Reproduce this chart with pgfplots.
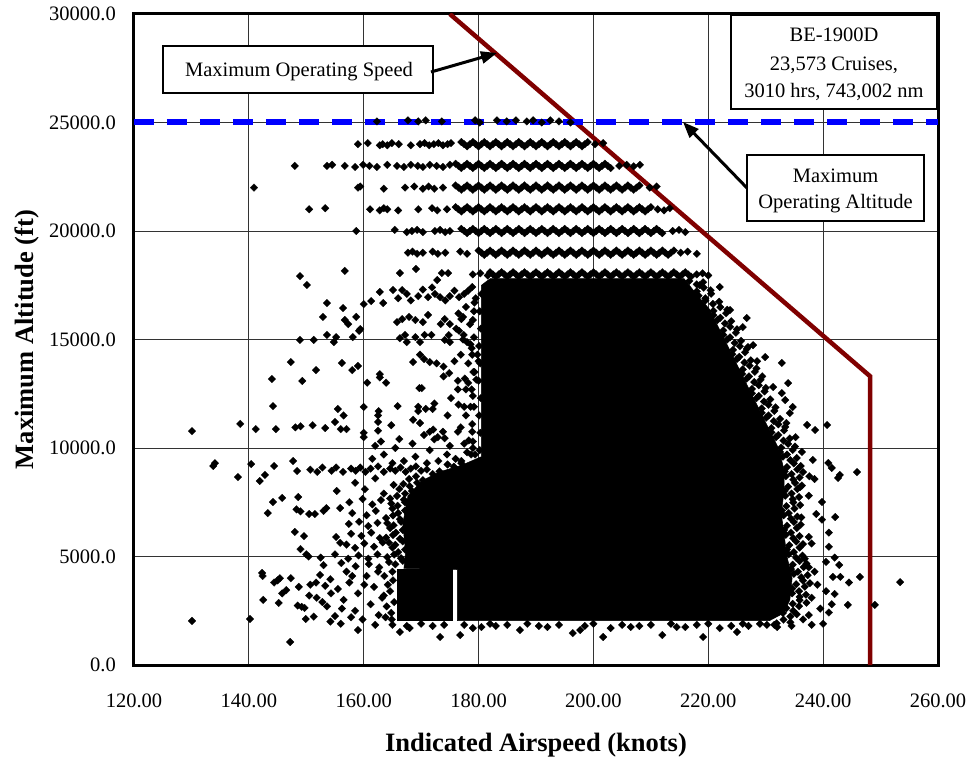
\documentclass[border=0pt]{standalone}
\usepackage{fontspec}
\setmainfont{Liberation Serif}
\usepackage{pgfplots}
\pgfplotsset{compat=1.18}
\usetikzlibrary{arrows.meta}
\definecolor{maroon}{RGB}{128,0,0}
\pgfplotsset{pts/.style={only marks, mark=square*, mark size=2.7pt, color=black, mark options={rotate=45, fill=black, draw=black, line width=0.2pt}}}
\begin{document}
\begin{tikzpicture}
\begin{axis}[
  at={(0pt,0pt)}, anchor=south west,
  scale only axis, width=804pt, height=651pt,
  xmin=120, xmax=260, ymin=0, ymax=30000,
  xtick={120,140,...,260}, ytick={0,5000,...,30000},
  scaled x ticks=false, scaled y ticks=false,
  major tick length=0pt,
  grid=major, major grid style={black!80, line width=0.8pt},
  axis line style={line width=3pt},
  /pgf/number format/assume math mode=true,
  xticklabel style={font=\fontsize{20.5}{24}\selectfont, anchor=center, inner sep=0pt, yshift=-36pt,
    /pgf/number format/fixed, /pgf/number format/fixed zerofill, /pgf/number format/precision=2},
  yticklabel style={font=\fontsize{20.5}{24}\selectfont, anchor=east, inner sep=0pt, xshift=-18pt,
    /pgf/number format/fixed, /pgf/number format/fixed zerofill, /pgf/number format/precision=1, /pgf/number format/1000 sep={}},
  xlabel={Indicated Airspeed (knots)},
  ylabel={Maximum Altitude (ft)},
  xlabel style={font=\fontsize{26.5}{30}\selectfont\bfseries, at={(axis description cs:0.5,-0.1336)}, anchor=base, inner sep=0pt},
  ylabel style={font=\fontsize{26.5}{30}\selectfont\bfseries, at={(axis description cs:-0.1244,0.5)}, anchor=base, inner sep=0pt},
]
% dense core (solid black areas of overlapping markers)
\addplot[fill=black, draw=black, line width=0.5pt, forget plot] coordinates {
(180.5,17500) (182,17800) (215.8,17800) (218.2,17000) (220.2,16400) (221.7,15600) (223.2,14800) (224.7,14000) (226.2,13200) (227.7,12400) (229.2,11600) (230.7,10800) (232.2,10000) (233.2,9000) (233.2,8000) (232.7,7000) (233.2,6000) (233.7,5000) (234.6,4000) (234.2,3000) (233.2,2400) (230.7,2050) (176.3,2050) (176.3,4400) (167,4450) (167.3,5200) (166.8,6500) (167.7,7800) (170.2,8500) (173.2,8900) (177,9200) (180.5,9600)} -- cycle;
\addplot[fill=black, draw=black, line width=0.5pt, forget plot] coordinates {
(165.8,2050) (175.4,2050) (175.4,4420) (165.8,4420)} -- cycle;
% flight-level rows
\addplot[pts] table[row sep=\\] {
x y\\
162.3 25050\\ 167.7 25100\\ 169.5 25050\\ 170.8 25100\\ 173.6 25050\\ 179.4 25100\\ 180.2 25000\\ 183.2 25100\\ 184.9 25050\\ 186.5 25100\\ 188.4 25050\\ 189.5 25100\\ 191.0 25000\\ 192.5 25100\\ 194.0 25050\\ 196.0 25000\\
159.0 24000\\ 160.7 24050\\ 162.8 23950\\ 163.3 24000\\ 164.1 23950\\ 164.9 24050\\ 166.1 24000\\ 168.2 23950\\ 169.8 24000\\ 170.6 24050\\ 171.4 23950\\ 172.2 24000\\ 173.0 24050\\ 173.8 23950\\ 174.6 24000\\ 175.2 24050\\
177 24100\\ 178 23900\\ 179 24100\\ 180 23900\\ 181 24100\\ 182 23900\\ 183 24100\\ 184 23900\\ 185 24100\\ 186 23900\\ 187 24100\\ 188 23900\\ 189 24100\\ 190 23900\\ 191 24100\\ 192 23900\\ 193 24100\\ 194 23900\\ 195 24100\\ 196 23900\\ 197 24100\\ 198 23900\\ 199 24100\\ 200.3 24000\\ 201.7 24050\\
148.0 23000\\ 153.6 23000\\ 154.5 23050\\ 156.7 23000\\ 158.5 22950\\ 159.9 23050\\ 161.0 23000\\ 162.3 22950\\ 164.1 23050\\ 165.8 23000\\ 167.0 22950\\ 168.2 23050\\ 169.4 23000\\ 170.3 22950\\ 171.5 23050\\ 172.7 23000\\ 173.8 22950\\ 175.0 23050\\
176 23100\\ 177 22900\\ 178 23100\\ 179 22900\\ 180 23100\\ 181 22900\\ 182 23100\\ 183 22900\\ 184 23100\\ 185 22900\\ 186 23100\\ 187 22900\\ 188 23100\\ 189 22900\\ 190 23100\\ 191 22900\\ 192 23100\\ 193 22900\\ 194 23100\\ 195 22900\\ 196 23100\\ 197 22900\\ 198 23100\\ 199 22900\\ 200 23100\\ 201 22900\\ 202 23100\\ 203 22900\\ 204.5 23000\\ 205.8 23050\\ 207.0 22980\\ 208.1 23050\\
140.9 22000\\ 159.0 22000\\ 159.4 22050\\ 163.5 21950\\ 167.2 22000\\ 168.8 22050\\ 170.3 21950\\ 171.3 22050\\ 172.3 21950\\ 173.8 22000\\
176 22100\\ 177 21900\\ 178 22100\\ 179 21900\\ 180 22100\\ 181 21900\\ 182 22100\\ 183 21900\\ 184 22100\\ 185 21900\\ 186 22100\\ 187 21900\\ 188 22100\\ 189 21900\\ 190 22100\\ 191 21900\\ 192 22100\\ 193 21900\\ 194 22100\\ 195 21900\\ 196 22100\\ 197 21900\\ 198 22100\\ 199 21900\\ 200 22100\\ 201 21900\\ 202 22100\\ 203 21900\\ 204 22100\\ 205 21900\\ 206 22100\\ 207 21900\\ 208 22100\\ 209.8 22000\\ 211.0 22050\\
150.5 21000\\ 153.3 21050\\ 161.1 21000\\ 162.8 20950\\ 163.5 21050\\ 164.1 21000\\ 166.0 20950\\ 169.5 21000\\ 171.9 21050\\ 172.8 20950\\ 174.5 21000\\
176 21100\\ 177 20900\\ 178 21100\\ 179 20900\\ 180 21100\\ 181 20900\\ 182 21100\\ 183 20900\\ 184 21100\\ 185 20900\\ 186 21100\\ 187 20900\\ 188 21100\\ 189 20900\\ 190 21100\\ 191 20900\\ 192 21100\\ 193 20900\\ 194 21100\\ 195 20900\\ 196 21100\\ 197 20900\\ 198 21100\\ 199 20900\\ 200 21100\\ 201 20900\\ 202 21100\\ 203 20900\\ 204 21100\\ 205 20900\\ 206 21100\\ 207 20900\\ 208 21100\\ 209 20900\\ 210 21100\\ 211.2 21000\\ 212.3 20950\\ 213.3 21050\\
158.7 20000\\ 165.4 20050\\ 167.5 19950\\ 168.4 20000\\ 169.3 20050\\ 170.3 19950\\ 172.4 20000\\ 173.3 20050\\ 174.2 19950\\ 175.0 20000\\
177 20100\\ 178 19900\\ 179 20100\\ 180 19900\\ 181 20100\\ 182 19900\\ 183 20100\\ 184 19900\\ 185 20100\\ 186 19900\\ 187 20100\\ 188 19900\\ 189 20100\\ 190 19900\\ 191 20100\\ 192 19900\\ 193 20100\\ 194 19900\\ 195 20100\\ 196 19900\\ 197 20100\\ 198 19900\\ 199 20100\\ 200 19900\\ 201 20100\\ 202 19900\\ 203 20100\\ 204 19900\\ 205 20100\\ 206 19900\\ 207 20100\\ 208 19900\\ 209 20100\\ 210 19900\\ 211 20100\\ 212 19900\\ 213.8 20000\\ 214.9 20050\\ 216.0 19950\\
167.7 19000\\ 168.5 19050\\ 169.3 18950\\ 170.3 19000\\ 172.0 19050\\ 172.9 18950\\ 174.2 19000\\ 176.8 19050\\ 178.0 18950\\
180 19100\\ 181 18900\\ 182 19100\\ 183 18900\\ 184 19100\\ 185 18900\\ 186 19100\\ 187 18900\\ 188 19100\\ 189 18900\\ 190 19100\\ 191 18900\\ 192 19100\\ 193 18900\\ 194 19100\\ 195 18900\\ 196 19100\\ 197 18900\\ 198 19100\\ 199 18900\\ 200 19100\\ 201 18900\\ 202 19100\\ 203 18900\\ 204 19100\\ 205 18900\\ 206 19100\\ 207 18900\\ 208 19100\\ 209 18900\\ 210 19100\\ 211 18900\\ 212 19100\\ 213 18900\\ 214 19100\\ 215.2 19000\\ 216.4 19050\\ 218.0 18950\\
148.9 17920\\ 150.1 17510\\ 156.7 18160\\ 166.3 18060\\ 169.1 18250\\ 173.6 18060\\ 174.7 18060\\ 172.8 17740\\ 179.0 18000\\ 180.3 18050\\ 181.6 17950\\
182 18100\\ 183 17900\\ 184 18100\\ 185 17900\\ 186 18100\\ 187 17900\\ 188 18100\\ 189 17900\\ 190 18100\\ 191 17900\\ 192 18100\\ 193 17900\\ 194 18100\\ 195 17900\\ 196 18100\\ 197 17900\\ 198 18100\\ 199 17900\\ 200 18100\\ 201 17900\\ 202 18100\\ 203 17900\\ 204 18100\\ 205 17900\\ 206 18100\\ 207 17900\\ 208 18100\\ 209 17900\\ 210 18100\\ 211 17900\\ 212 18100\\ 213 17900\\ 214 18100\\ 215 17900\\ 216 18100\\ 217 17900\\ 218.0 18000\\ 219.0 18050\\ 220.0 17950\\
};
% flight-level rows, in-between points
\addplot[pts] table[row sep=\\] {
x y\\
177.5 24000\\ 178.5 24000\\ 179.5 24000\\ 180.5 24000\\ 181.5 24000\\ 182.5 24000\\ 183.5 24000\\ 184.5 24000\\ 185.5 24000\\ 186.5 24000\\ 187.5 24000\\ 188.5 24000\\ 189.5 24000\\ 190.5 24000\\ 191.5 24000\\ 192.5 24000\\ 193.5 24000\\ 194.5 24000\\ 195.5 24000\\ 196.5 24000\\ 197.5 24000\\ 198.5 24000\\
176.5 23000\\ 177.5 23000\\ 178.5 23000\\ 179.5 23000\\ 180.5 23000\\ 181.5 23000\\ 182.5 23000\\ 183.5 23000\\ 184.5 23000\\ 185.5 23000\\ 186.5 23000\\ 187.5 23000\\ 188.5 23000\\ 189.5 23000\\ 190.5 23000\\ 191.5 23000\\ 192.5 23000\\ 193.5 23000\\ 194.5 23000\\ 195.5 23000\\ 196.5 23000\\ 197.5 23000\\ 198.5 23000\\ 199.5 23000\\ 200.5 23000\\ 201.5 23000\\ 202.5 23000\\
176.5 22000\\ 177.5 22000\\ 178.5 22000\\ 179.5 22000\\ 180.5 22000\\ 181.5 22000\\ 182.5 22000\\ 183.5 22000\\ 184.5 22000\\ 185.5 22000\\ 186.5 22000\\ 187.5 22000\\ 188.5 22000\\ 189.5 22000\\ 190.5 22000\\ 191.5 22000\\ 192.5 22000\\ 193.5 22000\\ 194.5 22000\\ 195.5 22000\\ 196.5 22000\\ 197.5 22000\\ 198.5 22000\\ 199.5 22000\\ 200.5 22000\\ 201.5 22000\\ 202.5 22000\\ 203.5 22000\\ 204.5 22000\\ 205.5 22000\\ 206.5 22000\\ 207.5 22000\\
176.5 21000\\ 177.5 21000\\ 178.5 21000\\ 179.5 21000\\ 180.5 21000\\ 181.5 21000\\ 182.5 21000\\ 183.5 21000\\ 184.5 21000\\ 185.5 21000\\ 186.5 21000\\ 187.5 21000\\ 188.5 21000\\ 189.5 21000\\ 190.5 21000\\ 191.5 21000\\ 192.5 21000\\ 193.5 21000\\ 194.5 21000\\ 195.5 21000\\ 196.5 21000\\ 197.5 21000\\ 198.5 21000\\ 199.5 21000\\ 200.5 21000\\ 201.5 21000\\ 202.5 21000\\ 203.5 21000\\ 204.5 21000\\ 205.5 21000\\ 206.5 21000\\ 207.5 21000\\ 208.5 21000\\ 209.5 21000\\
177.5 20000\\ 178.5 20000\\ 179.5 20000\\ 180.5 20000\\ 181.5 20000\\ 182.5 20000\\ 183.5 20000\\ 184.5 20000\\ 185.5 20000\\ 186.5 20000\\ 187.5 20000\\ 188.5 20000\\ 189.5 20000\\ 190.5 20000\\ 191.5 20000\\ 192.5 20000\\ 193.5 20000\\ 194.5 20000\\ 195.5 20000\\ 196.5 20000\\ 197.5 20000\\ 198.5 20000\\ 199.5 20000\\ 200.5 20000\\ 201.5 20000\\ 202.5 20000\\ 203.5 20000\\ 204.5 20000\\ 205.5 20000\\ 206.5 20000\\ 207.5 20000\\ 208.5 20000\\ 209.5 20000\\ 210.5 20000\\ 211.5 20000\\
180.5 19000\\ 181.5 19000\\ 182.5 19000\\ 183.5 19000\\ 184.5 19000\\ 185.5 19000\\ 186.5 19000\\ 187.5 19000\\ 188.5 19000\\ 189.5 19000\\ 190.5 19000\\ 191.5 19000\\ 192.5 19000\\ 193.5 19000\\ 194.5 19000\\ 195.5 19000\\ 196.5 19000\\ 197.5 19000\\ 198.5 19000\\ 199.5 19000\\ 200.5 19000\\ 201.5 19000\\ 202.5 19000\\ 203.5 19000\\ 204.5 19000\\ 205.5 19000\\ 206.5 19000\\ 207.5 19000\\ 208.5 19000\\ 209.5 19000\\ 210.5 19000\\ 211.5 19000\\ 212.5 19000\\ 213.5 19000\\
182.5 18000\\ 183.5 18000\\ 184.5 18000\\ 185.5 18000\\ 186.5 18000\\ 187.5 18000\\ 188.5 18000\\ 189.5 18000\\ 190.5 18000\\ 191.5 18000\\ 192.5 18000\\ 193.5 18000\\ 194.5 18000\\ 195.5 18000\\ 196.5 18000\\ 197.5 18000\\ 198.5 18000\\ 199.5 18000\\ 200.5 18000\\ 201.5 18000\\ 202.5 18000\\ 203.5 18000\\ 204.5 18000\\ 205.5 18000\\ 206.5 18000\\ 207.5 18000\\ 208.5 18000\\ 209.5 18000\\ 210.5 18000\\ 211.5 18000\\ 212.5 18000\\ 213.5 18000\\ 214.5 18000\\ 215.5 18000\\ 216.5 18000\\
};
% scattered points left of the core, 9000-17500 ft
\addplot[pts] table[row sep=\\] {
x y\\
160.0 16630\\ 161.3 16770\\ 162.8 17190\\ 163.4 16680\\ 165.1 17280\\ 166.7 17280\\ 166.0 16900\\ 167.5 17100\\ 168.2 16800\\ 169.5 17000\\ 170.3 17300\\ 171.2 16950\\ 171.9 17400\\ 172.4 17100\\ 173.3 16950\\ 174.2 16800\\ 175.0 17000\\ 175.8 17250\\ 176.6 16950\\ 177.5 17100\\ 178.2 17250\\ 178.9 17420\\ 179.5 16900\\
153.6 16680\\ 156.4 16450\\ 152.9 16040\\ 156.7 15900\\ 157.3 15710\\ 158.7 16040\\ 159.4 15480\\ 159.2 15400\\ 153.6 15210\\ 155.2 15110\\ 158.1 15110\\ 154.8 14880\\ 148.9 14980\\ 151.3 14980\\
165.8 15800\\ 166.7 15940\\ 167.9 16040\\ 169.0 15900\\ 170.3 15800\\ 171.2 16130\\ 173.4 15710\\ 174.1 15940\\ 175.0 15710\\ 177.0 15940\\ 177.3 16040\\
167.2 15210\\ 166.3 15060\\ 167.5 14880\\ 169.0 15110\\ 169.8 14880\\ 170.6 15210\\ 171.8 15210\\ 174.1 14980\\ 175.0 14880\\ 176.6 15400\\ 177.4 15210\\ 178.0 14880\\ 178.6 14780\\
147.3 13960\\ 144.0 13180\\ 149.3 13090\\ 151.7 13590\\ 156.2 13920\\ 158.0 13590\\ 159.0 13780\\
144.2 11930\\ 138.5 11110\\ 130.1 10780\\ 141.2 10870\\ 144.7 10870\\ 148.1 10950\\ 149.0 11000\\ 151.1 11050\\ 153.3 10920\\ 155.0 11200\\ 156.5 11500\\ 156.0 10870\\ 157.0 10870\\ 155.5 11800\\
160.0 11890\\ 160.6 13010\\ 162.8 13400\\ 162.8 13250\\ 163.9 13010\\ 162.5 10800\\ 162.5 11200\\ 162.5 11500\\ 162.6 11700\\ 164.8 11050\\ 165.9 11930\\ 166.2 10410\\ 160.0 10500\\ 160.0 10700\\
169.7 12760\\ 170.1 12760\\ 168.6 13960\\ 169.8 14300\\ 170.5 14100\\ 171.5 13960\\ 172.7 13900\\ 173.9 13750\\ 169.5 11700\\ 169.5 11900\\ 170.8 11800\\ 172.0 11800\\ 172.3 12050\\ 168.6 11300\\ 169.8 11150\\
173.9 13300\\ 174.9 13450\\ 176.4 13100\\ 177.6 13200\\ 178.2 13000\\ 179.6 13150\\ 176.9 14300\\
171.5 10750\\ 172.1 10850\\ 172.9 10500\\ 173.8 10750\\ 174.1 10450\\ 172.3 10400\\ 176.4 10750\\ 176.9 10950\\ 177.5 11900\\ 177.8 11500\\ 178.6 11900\\ 178.9 10750\\ 178.3 10350\\
180.0 14000\\ 179.8 14300\\ 176.5 16200\\ 177.8 16500\\ 178.5 15700\\ 179.2 16300\\ 176.1 15500\\ 177.3 15000\\ 178.8 14600\\ 178.2 13900\\ 179.3 13500\\ 176.4 12700\\ 177.8 12700\\ 179.0 12400\\ 176.5 12000\\ 175.2 12300\\ 174.6 11500\\ 175.8 14000\\ 174.8 15200\\ 179.4 9700\\ 179.0 10000\\ 177.5 10200\\
180.5 17100\\ 179.3 16700\\ 180.2 16300\\ 179.0 15900\\ 180.4 15500\\ 179.2 15100\\ 180.1 14700\\ 178.9 14300\\ 180.3 13900\\ 179.1 13500\\ 180.0 13100\\ 178.8 12700\\ 180.4 12300\\ 179.2 11900\\ 180.1 11500\\ 178.9 11100\\ 180.3 10700\\ 179.0 10300\\ 180.2 9900\\ 178.7 9700\\
134.1 9300\\ 133.8 9170\\ 138.1 8660\\ 140.4 9260\\ 141.9 8480\\ 142.8 8760\\ 144.4 9170\\ 147.7 9400\\ 148.4 8940\\
150.7 9000\\ 151.9 8900\\ 152.8 9100\\ 154.4 8950\\ 155.2 9100\\ 156.4 8900\\ 157.8 9050\\ 158.6 8950\\ 159.4 9100\\ 160.3 8900\\ 161.2 9050\\ 162.5 9150\\ 163.5 8900\\ 164.6 9050\\ 165.5 8950\\ 166.4 9100\\ 167.3 8900\\ 168.2 9050\\ 169.1 9150\\ 170.0 8950\\
161.5 9500\\ 163.5 9700\\ 165.5 10000\\ 167.0 9400\\ 169.0 9600\\ 171.5 9900\\ 174.5 9700\\ 176.0 9500\\ 168.5 10200\\ 170.5 10600\\ 163.0 10300\\ 165.0 9300\\ 171.0 9300\\ 173.0 9400\\ 175.0 10100\\ 177.0 9400\\ 178.0 9800\\ 162.0 10100\\
};
% scattered points left of the core, below 9000 ft
\addplot[pts] table[row sep=\\] {
x y\\
158.5 8400\\ 162.0 8600\\ 165.2 8300\\ 155.3 8020\\ 160.2 8100\\ 163.5 7900\\
144.2 7510\\ 145.8 7700\\ 148.6 7740\\ 157.5 7500\\ 159.8 7650\\ 161.5 7400\\ 163.0 7600\\
143.3 7000\\ 148.3 7170\\ 149.0 7080\\ 150.5 6960\\ 151.5 6960\\ 153.0 7100\\ 153.5 7230\\ 155.9 7230\\ 158.0 7000\\ 160.5 6900\\ 162.1 7100\\
157.4 6500\\ 159.2 6600\\ 160.8 6400\\ 162.4 6550\\
148.0 6130\\ 149.6 5940\\ 155.2 5900\\ 157.8 6050\\ 159.6 5950\\ 161.3 6100\\ 162.8 5850\\
155.9 5630\\ 157.0 5550\\ 158.5 5400\\ 160.1 5600\\ 161.8 5450\\ 163.3 5650\\
149.0 5340\\ 150.0 5100\\ 150.4 5000\\ 152.5 4950\\ 155.0 5100\\ 157.3 4900\\ 159.1 5050\\ 160.8 4900\\ 162.4 5100\\
153.0 4600\\ 156.1 4700\\ 158.6 4550\\ 160.9 4650\\ 162.7 4500\\
166.8 4800\\ 165.5 4640\\ 164.4 4740\\ 166.5 4920\\ 165.3 5090\\ 164.1 4970\\ 167.2 5320\\ 166.0 5200\\ 165.0 5410\\ 166.8 5700\\ 165.5 5540\\ 164.4 5640\\ 166.3 5820\\ 165.1 5990\\ 163.9 5870\\ 166.8 6220\\ 165.6 6100\\ 164.6 6310\\ 166.5 6600\\ 165.2 6440\\ 164.1 6540\\ 166.3 6720\\ 165.1 6890\\ 163.9 6770\\ 167.2 7120\\ 166.0 7000\\ 165.0 7210\\ 167.2 7500\\ 165.9 7340\\ 164.8 7440\\ 167.0 7620\\ 165.8 7790\\ 164.6 7670\\ 168.4 8020\\ 167.2 7900\\ 166.2 8110\\ 169.3 8400\\ 168.0 8240\\ 166.9 8340\\ 170.3 8520\\ 169.1 8690\\ 167.9 8570\\ 173.2 8920\\ 172.0 8800\\ 171.0 9010\\ 177.0 9300\\ 175.7 9140\\ 174.6 9240\\
163.8 2200\\ 164.0 2700\\ 163.5 3200\\ 164.2 3700\\ 163.6 4100\\ 164.8 2400\\ 165.3 2900\\ 164.6 3400\\ 165.1 3900\\ 165.0 4300\\ 164.9 2100\\
142.3 4240\\ 142.4 4100\\ 144.4 3800\\ 145.4 4000\\ 145.0 3900\\ 142.5 3000\\ 145.2 2860\\ 145.8 3300\\ 146.5 3450\\ 147.3 4000\\ 148.7 3600\\ 148.5 2740\\ 149.2 2680\\ 149.7 2630\\ 149.9 2120\\ 151.3 2230\\ 150.7 3700\\ 151.7 3800\\ 152.4 4150\\ 153.3 3650\\ 154.2 3950\\ 150.5 3200\\ 151.8 3100\\ 152.8 2900\\ 153.6 2700\\ 154.3 3300\\ 154.2 2000\\ 155.0 2250\\ 156.0 1900\\
155.5 3500\\ 156.5 3000\\ 157.5 3800\\ 158.5 2500\\ 159.0 3300\\ 159.8 2100\\ 160.5 4100\\ 161.2 2800\\ 161.8 3600\\ 162.6 2300\\ 163.2 3100\\ 157.0 4300\\ 158.0 4100\\ 156.2 2600\\ 157.8 2200\\ 160.1 3700\\ 162.5 4300\\ 159.0 1610\\
166.3 1520\\ 173.3 1290\\ 176.8 1380\\ 140.2 2120\\ 130.1 2030\\ 147.2 1060\\
};
% points along the right and lower edges of the core
\addplot[pts] table[row sep=\\] {
x y\\
216.7 17700\\ 218.0 17540\\ 219.1 17640\\ 218.0 17220\\ 219.2 17390\\ 220.4 17270\\ 218.3 17020\\ 219.5 16900\\ 220.5 17110\\ 219.5 16800\\ 220.8 16640\\ 221.9 16740\\ 220.9 16320\\ 222.1 16490\\ 223.3 16370\\ 220.9 16120\\ 222.1 16000\\ 223.1 16210\\ 221.6 15900\\ 222.9 15740\\ 224.0 15840\\ 222.6 15420\\ 223.8 15590\\ 225.0 15470\\ 222.6 15220\\ 223.8 15100\\ 224.8 15310\\ 223.3 15000\\ 224.6 14840\\ 225.7 14940\\ 224.3 14520\\ 225.5 14690\\ 226.7 14570\\ 224.2 14320\\ 225.4 14200\\ 226.4 14410\\ 225.0 14100\\ 226.3 13940\\ 227.4 14040\\ 226.0 13620\\ 227.2 13790\\ 228.4 13670\\ 225.9 13420\\ 227.1 13300\\ 228.1 13510\\ 226.7 13200\\ 228.0 13040\\ 229.1 13140\\ 227.6 12720\\ 228.8 12890\\ 230.0 12770\\ 227.6 12520\\ 228.8 12400\\ 229.8 12610\\ 228.4 12300\\ 229.7 12140\\ 230.8 12240\\ 229.3 11820\\ 230.5 11990\\ 231.7 11870\\ 229.3 11620\\ 230.5 11500\\ 231.5 11710\\ 230.1 11400\\ 231.4 11240\\ 232.5 11340\\ 231.0 10920\\ 232.2 11090\\ 233.4 10970\\ 231.0 10720\\ 232.2 10600\\ 233.2 10810\\ 231.8 10500\\ 233.1 10340\\ 234.2 10440\\ 232.7 10020\\ 233.9 10190\\ 235.1 10070\\ 232.5 9820\\ 233.7 9700\\ 234.7 9910\\ 233.0 9600\\ 234.3 9440\\ 235.4 9540\\ 233.7 9120\\ 234.9 9290\\ 236.1 9170\\ 233.3 8920\\ 234.5 8800\\ 235.5 9010\\ 233.5 8700\\ 234.8 8540\\ 235.9 8640\\ 233.9 8220\\ 235.1 8390\\ 236.3 8270\\ 233.3 8020\\ 234.5 7900\\ 235.5 8110\\ 233.4 7800\\ 234.7 7640\\ 235.8 7740\\ 233.6 7320\\ 234.8 7490\\ 236.0 7370\\ 232.8 7120\\ 234.0 7000\\ 235.0 7210\\ 233.1 6900\\ 234.4 6740\\ 235.5 6840\\ 233.7 6420\\ 234.9 6590\\ 236.1 6470\\ 233.2 6220\\ 234.4 6100\\ 235.4 6310\\ 233.5 6000\\ 234.8 5840\\ 235.9 5940\\ 234.1 5520\\ 235.3 5690\\ 236.5 5570\\ 233.7 5320\\ 234.9 5200\\ 235.9 5410\\ 234.0 5100\\ 235.3 4940\\ 236.4 5040\\ 234.7 4620\\ 235.9 4790\\ 237.1 4670\\ 234.4 4420\\ 235.6 4300\\ 236.6 4510\\ 234.9 4200\\ 236.2 4040\\ 237.3 4140\\ 235.3 3720\\ 236.5 3890\\ 237.7 3770\\ 234.6 3520\\ 235.8 3400\\ 236.8 3610\\ 234.6 3300\\ 235.9 3140\\ 237.0 3240\\ 234.7 2820\\ 235.9 2990\\ 237.1 2870\\ 233.6 2620\\ 234.8 2500\\ 235.8 2710\\ 233.0 2400\\ 234.3 2240\\ 235.4 2340\\ 231.9 1920\\ 233.1 2090\\ 234.3 1970\\
218.5 17500\\ 222.0 17420\\ 223.8 16360\\ 226.7 15990\\ 226.0 15570\\ 226.9 14650\\ 227.8 14740\\ 228.5 14000\\ 229.9 14190\\ 232.8 13920\\ 229.4 13300\\ 233.9 12990\\ 231.3 12810\\ 232.8 12530\\ 233.4 12210\\ 234.7 11890\\ 234.2 11610\\ 233.6 11150\\ 238.6 10830\\ 237.2 11060\\ 240.7 11060\\ 235.2 10500\\
236.3 9820\\ 238.2 9450\\ 240.9 9310\\ 241.5 9080\\ 242.9 8760\\ 242.6 8620\\ 245.9 8890\\ 236.5 8890\\ 237.6 8700\\ 238.5 8570\\ 239.8 7510\\ 237.5 7800\\ 236.0 8200\\ 236.2 6800\\ 238.8 6960\\ 239.8 6700\\ 242.1 6820\\ 241.0 6100\\ 241.0 5450\\ 238.0 5600\\ 237.5 5900\\ 236.8 4900\\ 242.0 4950\\ 242.8 4610\\ 240.5 4750\\ 238.5 4300\\ 237.5 4500\\ 241.7 4060\\ 243.0 4060\\ 244.5 3800\\ 246.4 4060\\ 239.0 3700\\ 240.5 3400\\ 242.0 3270\\ 238.0 3100\\ 244.3 2770\\ 241.5 2800\\ 241.0 2420\\ 239.5 2600\\ 237.5 2300\\ 249.0 2770\\ 253.4 3820\\
236.5 2100\\ 238.0 1850\\ 240.0 1900\\ 234.5 1800\\ 232.0 1750\\ 230.2 1850\\ 227.0 1800\\ 225.0 1520\\ 219.1 1290\\ 212.0 1380\\ 201.7 1290\\ 196.4 1470\\ 197.7 1610\\ 187.2 1610\\ 222.0 1700\\ 216.0 1750\\ 208.0 1800\\ 203.0 1700\\ 192.0 1750\\ 183.0 1800\\ 179.0 1700\\ 172.0 1800\\ 168.0 1700\\ 162.0 1850\\
165.0 1850\\ 167.5 1800\\ 170.0 1900\\ 174.0 1850\\ 177.5 1850\\ 180.5 1750\\ 182.0 1900\\ 185.0 1850\\ 188.5 1900\\ 190.5 1800\\ 194.0 1850\\ 198.5 1800\\ 200.0 1900\\ 205.0 1850\\ 206.5 1750\\ 210.0 1850\\ 213.5 1900\\ 214.5 1750\\ 218.0 1850\\ 220.0 1900\\ 224.0 1800\\ 226.0 1900\\ 229.0 1900\\ 231.5 1850\\
};
% Maximum operating speed
\addplot[maroon, line width=4.5pt, line join=miter] coordinates {(175,30000) (248.2,13300) (248.2,0)};
% Maximum operating altitude
\addplot[blue, line width=6pt, dash pattern=on 20pt off 13pt] coordinates {(120,25000) (260,25000)};
\end{axis}
% annotation boxes and arrows (positions in pt from the axis' lower left corner)
\draw[line width=1.2pt, fill=white] (597pt,650pt) rectangle (803pt,556pt);
\node[anchor=base, inner sep=0pt, font=\fontsize{20.5}{24}\selectfont] at (700pt,623pt) {BE-1900D};
\node[anchor=base, inner sep=0pt, font=\fontsize{20.5}{24}\selectfont] at (700pt,594pt) {23,573 Cruises,};
\node[anchor=base, inner sep=0pt, font=\fontsize{20.5}{24}\selectfont] at (700pt,567pt) {3010 hrs, 743,002 nm};
\draw[line width=1.2pt, fill=white] (29pt,619pt) rectangle (299pt,572pt);
\node[anchor=base, inner sep=0pt, font=\fontsize{20.5}{24}\selectfont] at (165pt,588pt) {Maximum Operating Speed};
\draw[line width=3pt, -{Triangle[length=16pt,width=12pt]}] (297pt,593pt) -- (363pt,612pt);
\draw[line width=1.2pt, fill=white] (613pt,510pt) rectangle (790pt,444pt);
\node[anchor=base, inner sep=0pt, font=\fontsize{20.5}{24}\selectfont] at (701.5pt,482pt) {Maximum};
\node[anchor=base, inner sep=0pt, font=\fontsize{20.5}{24}\selectfont] at (701.5pt,456pt) {Operating Altitude};
\draw[line width=3pt, -{Triangle[length=16pt,width=12pt]}] (613pt,477pt) -- (549pt,543pt);
\pgfresetboundingbox
\path[use as bounding box] (-134pt,-96pt) rectangle (838pt,665pt);
\end{tikzpicture}
\end{document}
